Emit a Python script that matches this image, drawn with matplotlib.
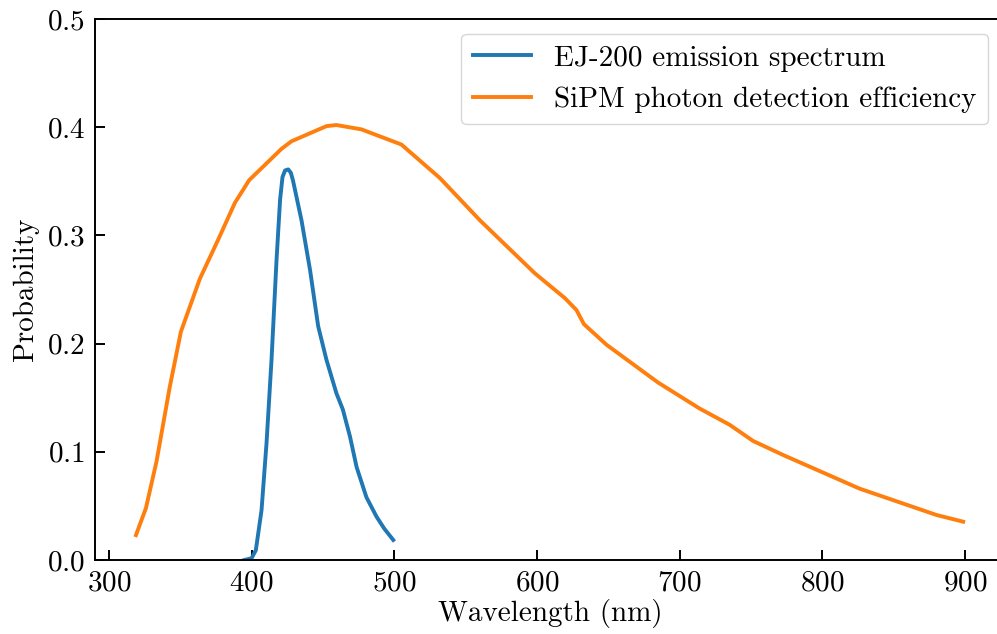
import matplotlib
matplotlib.use("Agg")
import matplotlib.pyplot as plt

# EJ-200 emission spectrum
ej_wl = [395, 400, 403, 407, 410.5, 414, 417.5, 420, 421.7, 423.5, 425.7, 427.5, 429,
         435, 441, 446.7, 452.5, 459.5, 464, 469, 473.6, 480.5, 487.6, 493, 499.3]
ej_prob = [0.0, 0.0016, 0.009, 0.046, 0.108, 0.185, 0.277, 0.333, 0.354, 0.360, 0.361,
           0.358, 0.351, 0.314, 0.268, 0.216, 0.185, 0.154, 0.139, 0.114, 0.086, 0.058,
           0.040, 0.029, 0.0185]

# SiPM photon detection efficiency
pde_wl = [319, 326, 333.4, 342.7, 350.5, 363.8, 376.6, 388.3, 398.3, 421, 428, 452.5,
          459.5, 477, 505, 532, 560, 598.5, 619.6, 627.7, 632.9, 648.7, 684.9, 714,
          735, 751.5, 772.6, 826, 880, 898.7]
pde_prob = [0.023, 0.048, 0.091, 0.160, 0.211, 0.260, 0.296, 0.330, 0.351, 0.380, 0.387,
            0.401, 0.402, 0.398, 0.384, 0.353, 0.314, 0.265, 0.242, 0.231, 0.218, 0.199,
            0.164, 0.140, 0.125, 0.110, 0.097, 0.066, 0.0416, 0.0354]

plt.rcParams['font.family'] = 'serif'
plt.rcParams['font.serif'] = ['cmr10']
plt.rcParams['mathtext.fontset'] = 'cm'
plt.rcParams['axes.formatter.use_mathtext'] = True
plt.rcParams['font.size'] = 21

fig = plt.figure(figsize=(9.97, 6.34), dpi=100)
W, H = 997, 634
left, right, top, bottom = 95, 1006, 19, 560
ax = fig.add_axes([left / W, (H - bottom) / H, (right - left) / W, (bottom - top) / H])

ax.plot(ej_wl, ej_prob, color='#1f77b4', lw=2.8, label='EJ-200 emission spectrum')
ax.plot(pde_wl, pde_prob, color='#ff7f0e', lw=2.8, label='SiPM photon detection efficiency')

ax.set_xlim(290.3, 928.7)
ax.set_ylim(0, 0.5)
ax.set_xticks([300, 400, 500, 600, 700, 800, 900])
ax.set_yticks([0.0, 0.1, 0.2, 0.3, 0.4, 0.5])
ax.tick_params(direction='in', length=7, width=1.4, pad=7)
for s in ax.spines.values():
    s.set_linewidth(1.4)

ax.set_xlabel('Wavelength (nm)', labelpad=2)
ax.set_ylabel('Probability', labelpad=6)

ax.legend(loc='upper right', bbox_to_anchor=((1003 - left) / (right - left), 1.0),
          handlelength=2.0, fancybox=True)

fig.savefig('out.png', dpi=100)
